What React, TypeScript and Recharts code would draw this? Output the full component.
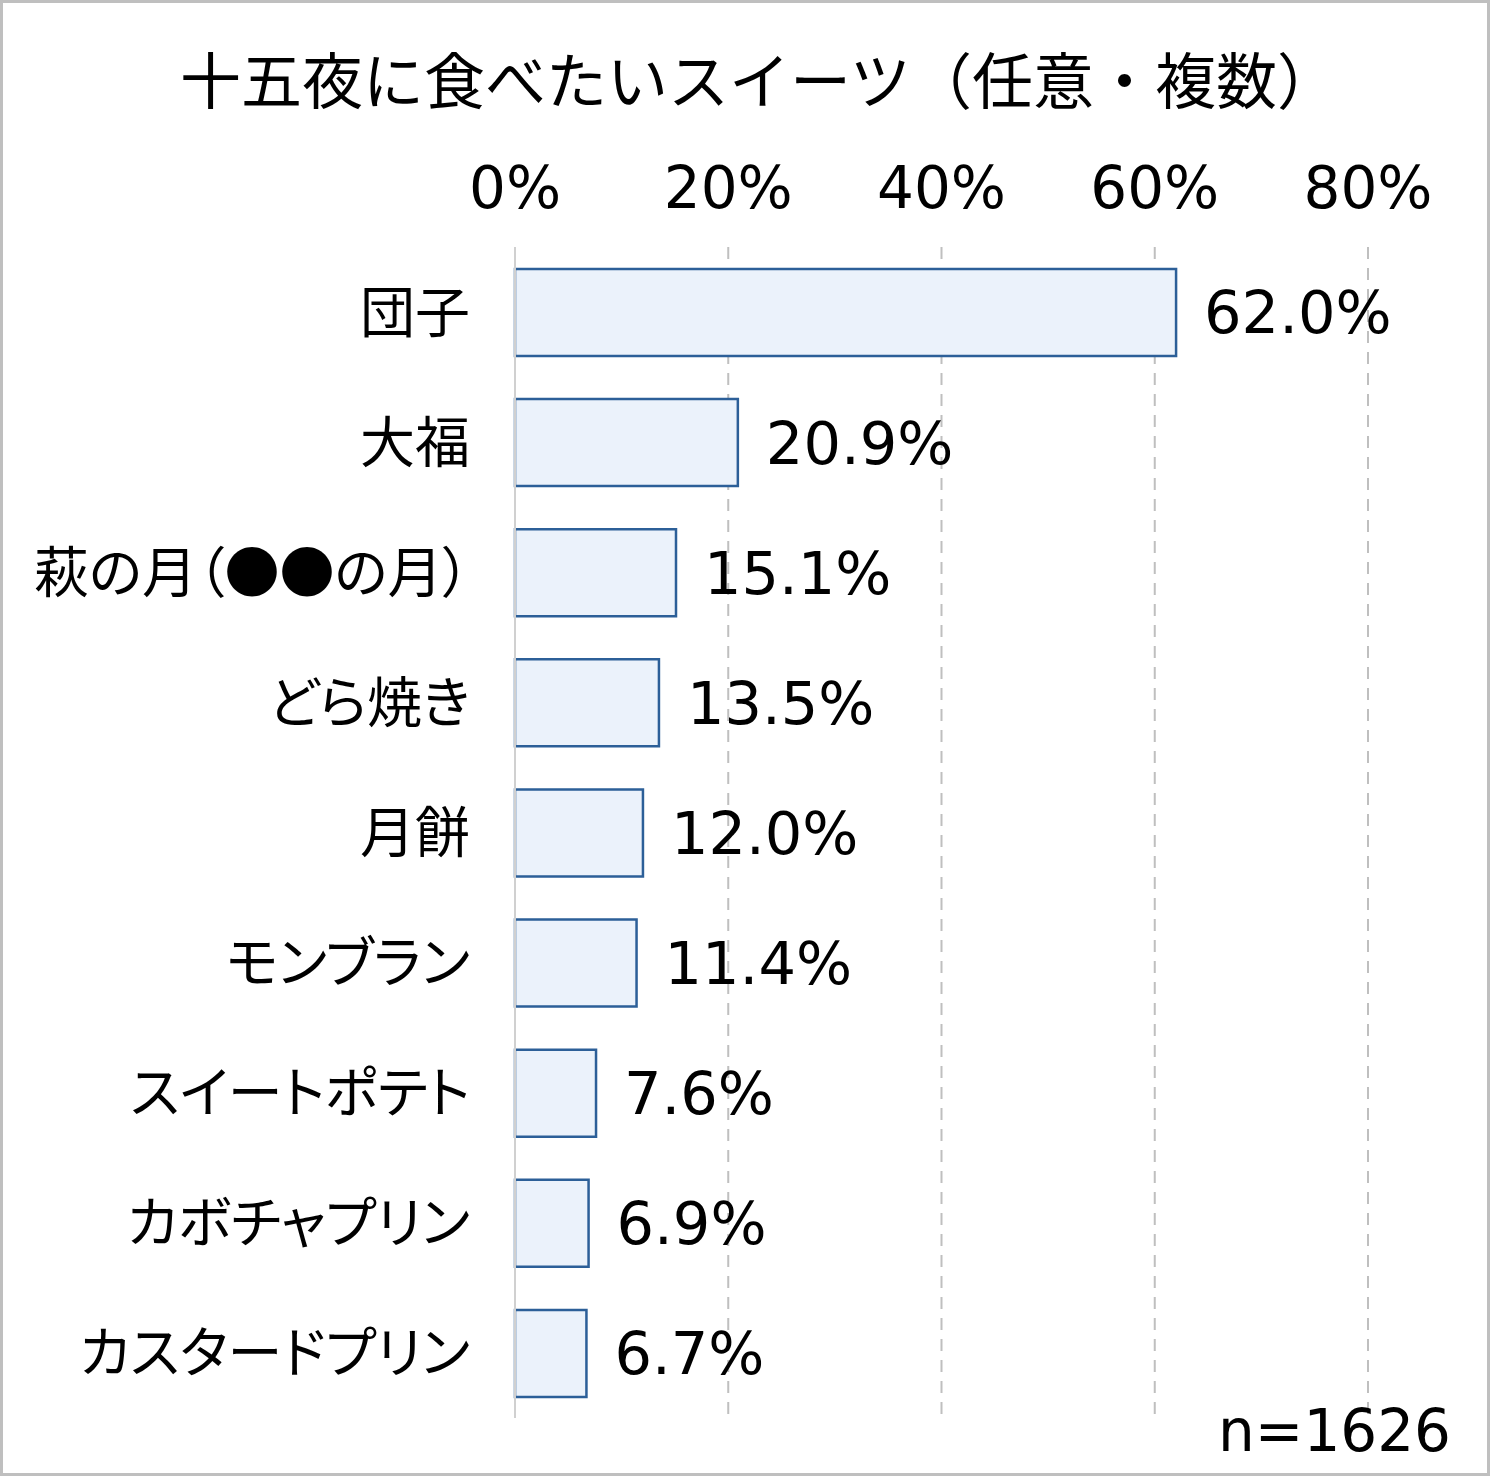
import { BarChart, Bar, XAxis, YAxis, CartesianGrid, LabelList } from 'recharts';

const categories = [
  '団子',
  '大福',
  '萩の月（●●の月）',
  'どら焼き',
  '月餅',
  'モンブラン',
  'スイートポテト',
  'カボチャプリン',
  'カスタードプリン',
];
const shares = [62.0, 20.9, 15.1, 13.5, 12.0, 11.4, 7.6, 6.9, 6.7];
const xTicks = [0, 20, 40, 60, 80];

const title = '十五夜に食べたいスイーツ（任意・複数）';
const sampleNote = 'n=1626';

const data = categories.map((name, i) => ({ name, value: shares[i] }));

const W = 1490;
const H = 1476;
const NUM_FONT = '"DejaVu Sans", "Noto Sans CJK JP", sans-serif';
const JP_FONT = '"Noto Sans CJK JP", sans-serif';

export default function App() {
  return (
    <div style={{ position: 'absolute', left: 0, top: 0, width: W, height: H, background: '#fff' }}>
      <BarChart
        width={W}
        height={H}
        data={data}
        layout="vertical"
        margin={{ top: 187, right: 122, left: 0, bottom: 58 }}
      >
        <CartesianGrid horizontal={false} stroke="#BFBFBF" strokeWidth={2} strokeDasharray="12 9" />
        <XAxis
          type="number"
          orientation="top"
          domain={[0, 80]}
          ticks={xTicks}
          height={60}
          axisLine={false}
          tickLine={false}
          tickSize={0}
          tickMargin={39}
          tickFormatter={(v) => `${v}%`}
          tick={{ fill: '#000', fontSize: 58, fontFamily: NUM_FONT }}
        />
        <YAxis
          type="category"
          dataKey="name"
          width={515}
          axisLine={{ stroke: '#D0D0D0', strokeWidth: 2 }}
          tickLine={false}
          tickSize={0}
          tickMargin={45}
          interval={0}
          tick={{
            fill: '#000',
            fontSize: 55,
            fontFamily: JP_FONT,
            style: { fontFeatureSettings: '"palt"' },
          }}
        />
        <Bar
          dataKey="value"
          fill="#EBF2FB"
          stroke="#2C5F98"
          strokeWidth={2.5}
          barSize={87}
          isAnimationActive={false}
        >
          <LabelList
            dataKey="value"
            position="right"
            offset={28}
            formatter={(v: number) => `${Number(v).toFixed(1)}%`}
            style={{ fill: '#000', fontSize: 59, fontFamily: NUM_FONT }}
          />
        </Bar>
      </BarChart>
      <svg
        width={W}
        height={H}
        style={{ position: 'absolute', left: 0, top: 0, pointerEvents: 'none' }}
      >
        <text x={759} y={104} textAnchor="middle" fontSize={61} fontFamily={JP_FONT} fill="#000">
          {title}
        </text>
        <text x={1451} y={1451} textAnchor="end" fontSize={58} fontFamily={NUM_FONT} fill="#000">
          {sampleNote}
        </text>
        <rect x={1.5} y={1.5} width={W - 3} height={H - 3} fill="none" stroke="#BFBFBF" strokeWidth={3} />
      </svg>
    </div>
  );
}
